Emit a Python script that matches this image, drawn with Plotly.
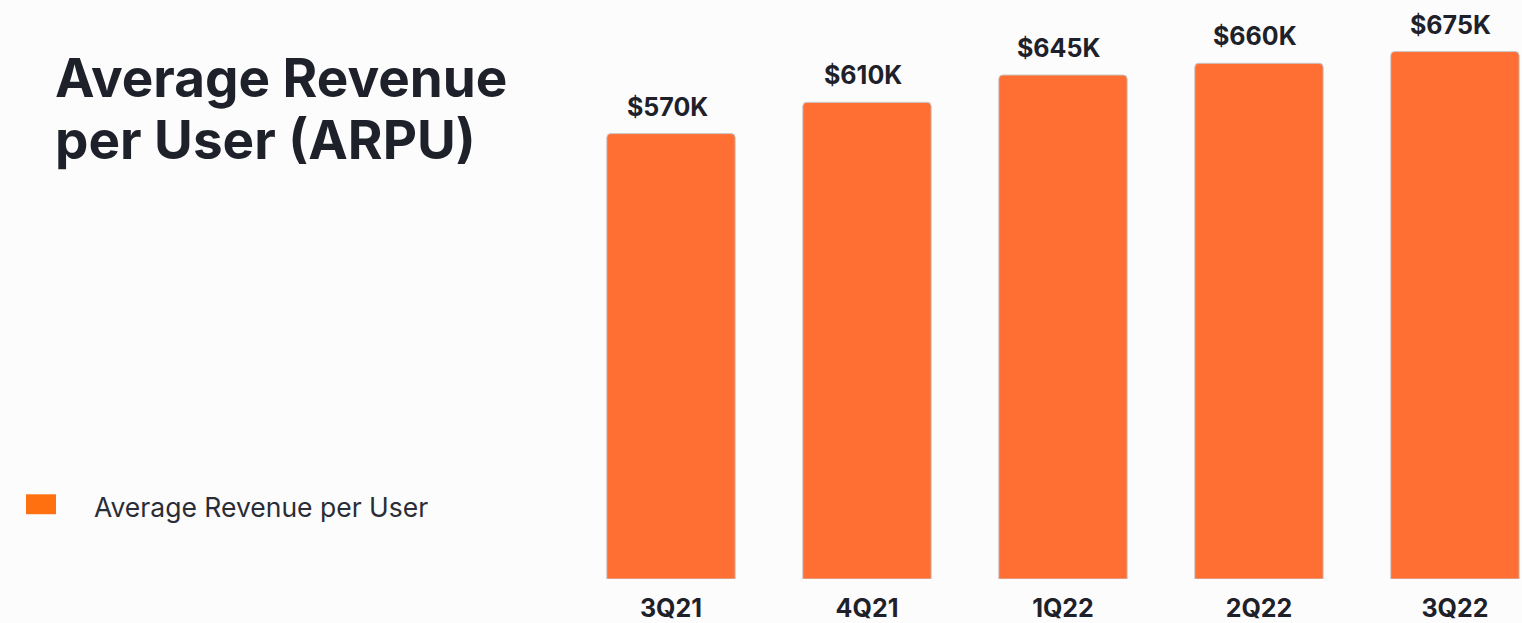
import plotly.graph_objects as go

quarters = ["3Q21", "4Q21", "1Q22", "2Q22", "3Q22"]
arpu_k = [570, 610, 645, 660, 675]
labels = ["$570K", "$610K", "$645K", "$660K", "$675K"]
series_name = "Average Revenue per User"

BAR = "#FF6E33"
TXT = "#1E2129"
BG = "#FCFCFC"

fig = go.Figure()
fig.add_trace(go.Bar(
    x=quarters, y=arpu_k, name=series_name,
    marker=dict(color=BAR, line=dict(color="#C8C8C8", width=1), cornerradius=4),
    width=0.655, showlegend=False, hoverinfo="skip",
))

for q, v, t in zip(quarters, arpu_k, labels):
    fig.add_annotation(x=q, y=v, text=t, showarrow=False, yanchor="bottom",
                       yshift=10, xshift=-4, font=dict(family="Inter", size=25, color=TXT, weight="bold"))

# title
fig.add_annotation(xref="paper", yref="paper", x=53/1522, y=1-44/581, xanchor="left", yanchor="top",
                   text="Average Revenue", showarrow=False,
                   font=dict(family="Inter", size=53, color=TXT, weight="bold"))
fig.add_annotation(xref="paper", yref="paper", x=53/1522, y=1-106/581, xanchor="left", yanchor="top",
                   text="per User (ARPU)", showarrow=False,
                   font=dict(family="Inter", size=53, color=TXT, weight="bold"))

# legend
fig.add_shape(type="rect", xref="paper", yref="paper",
              x0=26/1522, x1=56/1522, y0=1-516/581, y1=1-496/581,
              fillcolor="#FF7011", line=dict(width=0))
fig.add_annotation(xref="paper", yref="paper", x=92/1522, y=1-509/581, xanchor="left", yanchor="middle",
                   text=series_name, showarrow=False,
                   font=dict(family="Inter", size=26.5, color="#2A2D36"))

fig.update_layout(
    width=1522, height=623,
    margin=dict(l=0, r=0, t=0, b=42),
    paper_bgcolor=BG, plot_bgcolor=BG,
    xaxis=dict(domain=[573/1522, 1], range=[-0.5, 4.342], showgrid=False, zeroline=False,
               showline=False, ticks="", ticklabelstandoff=12,
               tickfont=dict(family="Inter", size=25, color=TXT, weight="bold")),
    yaxis=dict(range=[0, 741], visible=False),
    bargap=0.35,
)

fig.write_html("out.html")
